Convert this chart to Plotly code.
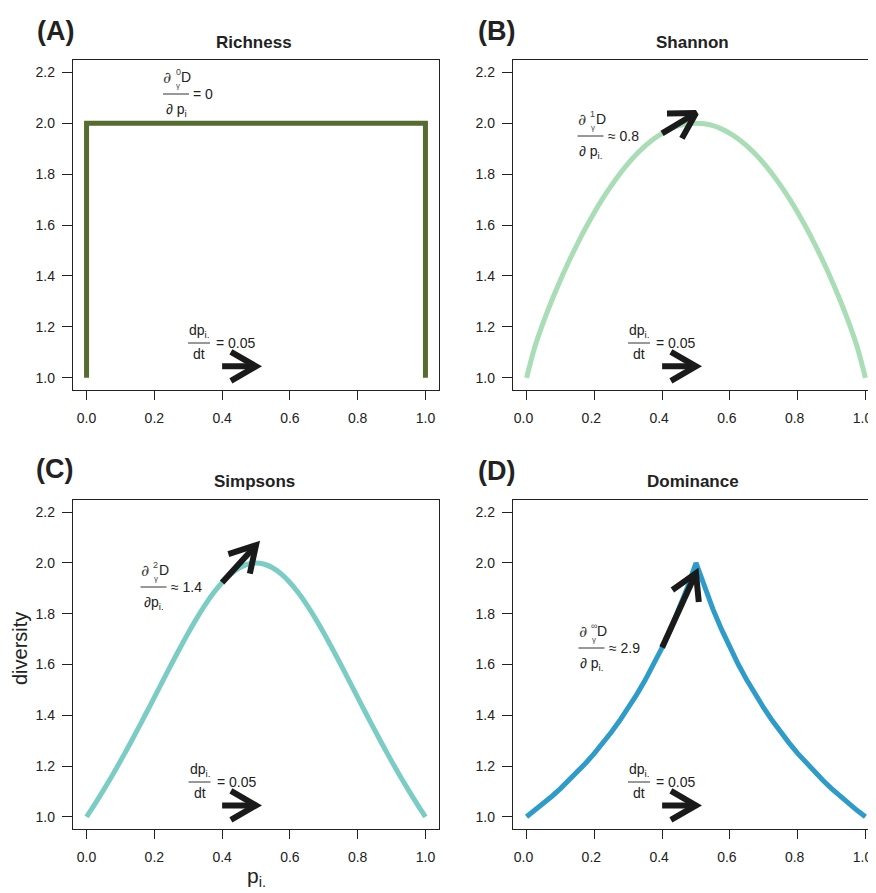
import math
import plotly.graph_objects as go

# ---------------- data ----------------
p_grid = [0.0, 0.025, 0.05, 0.075, 0.1, 0.125, 0.15, 0.175, 0.2, 0.225, 0.25,
          0.275, 0.3, 0.325, 0.35, 0.375, 0.4, 0.425, 0.45, 0.475, 0.5,
          0.525, 0.55, 0.575, 0.6, 0.625, 0.65, 0.675, 0.7, 0.725, 0.75,
          0.775, 0.8, 0.825, 0.85, 0.875, 0.9, 0.925, 0.95, 0.975, 1.0]

richness_x = [0.0, 0.0, 1.0, 1.0]
richness_y = [1.0, 2.0, 2.0, 1.0]

shannon_y = [1.0, 1.124, 1.2196, 1.3052, 1.3841, 1.4576, 1.5261, 1.59, 1.6494, 1.7043, 1.7548,
             1.8007, 1.842, 1.8787, 1.9107, 1.9378, 1.9601, 1.9775, 1.99, 1.9975, 2.0,
             1.9975, 1.99, 1.9775, 1.9601, 1.9378, 1.9107, 1.8787, 1.842, 1.8007, 1.7548,
             1.7043, 1.6494, 1.59, 1.5261, 1.4576, 1.3841, 1.3052, 1.2196, 1.124, 1.0]

simpson_y = [1.0, 1.0512, 1.105, 1.1611, 1.2195, 1.28, 1.3423, 1.406, 1.4706, 1.5355, 1.6,
             1.6632, 1.7241, 1.7817, 1.8349, 1.8824, 1.9231, 1.956, 1.9802, 1.995, 2.0,
             1.995, 1.9802, 1.956, 1.9231, 1.8824, 1.8349, 1.7817, 1.7241, 1.6632, 1.6,
             1.5355, 1.4706, 1.406, 1.3423, 1.28, 1.2195, 1.1611, 1.105, 1.0512, 1.0]

dominance_y = [1.0, 1.0256, 1.0526, 1.0811, 1.1111, 1.1429, 1.1765, 1.2121, 1.25, 1.2903, 1.3333,
               1.3793, 1.4286, 1.4815, 1.5385, 1.6, 1.6667, 1.7391, 1.8182, 1.9048, 2.0,
               1.9048, 1.8182, 1.7391, 1.6667, 1.6, 1.5385, 1.4815, 1.4286, 1.3793, 1.3333,
               1.2903, 1.25, 1.2121, 1.1765, 1.1429, 1.1111, 1.0811, 1.0526, 1.0256, 1.0]

# slope arrows (start at p=0.4, end at p=0.5)
slope_arrow_x = [0.4, 0.5]
shannon_arrow_y = [1.96, 2.04]
simpson_arrow_y = [1.923, 2.07]
dominance_arrow_y = [1.667, 1.96]
# dp/dt arrows
dt_arrow_x = [0.4, 0.5]
dt_arrow_y = [1.045, 1.045]

panel_titles = ["Richness", "Shannon", "Simpsons", "Dominance"]
panel_letters = ["(A)", "(B)", "(C)", "(D)"]
slope_sups = ["0", "1", "2", "\u221e"]
slope_rhs = ["= 0", "\u2248 0.8", "\u2248 1.4", "\u2248 2.9"]
slope_dens = ["\u2202 p<sub>i</sub>", "\u2202 p<sub>i.</sub>", "\u2202p<sub>i.</sub>", "\u2202 p<sub>i.</sub>"]
x_ticks = [0.0, 0.2, 0.4, 0.6, 0.8, 1.0]
y_ticks = [1.0, 1.2, 1.4, 1.6, 1.8, 2.0, 2.2]

colors = ["#556B2F", "#A8DDB5", "#7BCCC4", "#2F9BC9"]

# ---------------- layout geometry ----------------
OFF = 8                      # page body margin in the browser
W, H = 876 - OFF, 893 - OFF  # figure size so the figure ends at the window edge
FONT = "Liberation Sans, Arial, Helvetica, sans-serif"
INK = "#222222"

# screen-pixel boxes of the plot regions: (left, right, top, bottom)
boxes = [(73, 439, 60, 390), (513, 876, 60, 390), (73, 439, 500, 829), (513, 876, 500, 829)]
KX = 366 / 1.08  # px per data unit along x
YR = [0.952, 2.248]


def P(x, y):
    return (x - OFF) / W, 1 - (y - OFF) / H


fig = go.Figure()
annotations = []
shapes = []

for i, (l, r, t, b) in enumerate(boxes):
    n = "" if i == 0 else str(i + 1)
    xr = [-0.04, -0.04 + (r - l) / KX]
    x0p, y1p = P(l, t)
    x1p, y0p = P(r, b)
    fig.layout["xaxis" + n] = dict(
        domain=[x0p, min(x1p, 1.0)], range=xr, anchor="y" + n,
        showline=True, mirror=True, linecolor=INK, linewidth=1.3,
        ticks="outside", ticklen=9, tickwidth=1.3, tickcolor=INK,
        tickvals=x_ticks, tickformat=".1f", showgrid=False, zeroline=False,
        tickfont=dict(family=FONT, size=14, color=INK), ticklabelstandoff=6,
        ticklabelshift=(-3 if i in (1, 3) else 0), ticklabeloverflow="allow",
    )
    fig.layout["yaxis" + n] = dict(
        domain=[y0p, y1p], range=YR, anchor="x" + n,
        showline=True, mirror=(i in (0, 2)), linecolor=INK, linewidth=1.3,
        ticks="outside", ticklen=10, tickwidth=1.3, tickcolor=INK,
        tickvals=y_ticks, tickformat=".1f", showgrid=False, zeroline=False,
        tickfont=dict(family=FONT, size=14, color=INK), ticklabelstandoff=4,
    )

curves = [(richness_x, richness_y), (p_grid, shannon_y), (p_grid, simpson_y), (p_grid, dominance_y)]
shapes_kind = ["linear", "spline", "spline", "linear"]
for i, (xs, ys) in enumerate(curves):
    n = "" if i == 0 else str(i + 1)
    fig.add_trace(go.Scatter(x=xs, y=ys, mode="lines", xaxis="x" + n, yaxis="y" + n,
                             line=dict(color=colors[i], width=5, shape=shapes_kind[i], smoothing=0.8),
                             hoverinfo="skip", showlegend=False))


def add_arrow(i, xs, ys):
    l, r, t, b = boxes[i]
    kx = KX
    ky = (b - t) / (YR[1] - YR[0])
    n = "" if i == 0 else str(i + 1)
    x0, x1 = xs
    y0, y1 = ys
    ang = math.atan2((y1 - y0) * ky, (x1 - x0) * kx)
    L = 29
    hx, hy = [], []
    for s in (1, -1):
        a = ang + math.pi - s * math.radians(30)
        hx.append(x1 + L * math.cos(a) / kx)
        hy.append(y1 + L * math.sin(a) / ky)
    ax = [x0, x1, None, hx[0], x1, hx[1]]
    ay = [y0, y1, None, hy[0], y1, hy[1]]
    fig.add_trace(go.Scatter(x=ax, y=ay, mode="lines", xaxis="x" + n, yaxis="y" + n,
                             line=dict(color="#1a1a1a", width=6), hoverinfo="skip",
                             showlegend=False))


for i in range(4):
    add_arrow(i, dt_arrow_x, dt_arrow_y)
add_arrow(1, slope_arrow_x, shannon_arrow_y)
add_arrow(2, slope_arrow_x, simpson_arrow_y)
add_arrow(3, slope_arrow_x, dominance_arrow_y)


def txt(x, y, s, size=14, color=INK, bold=False, xanchor="center", family=FONT, angle=0):
    px, py = P(x, y)
    annotations.append(dict(x=px, y=py, xref="paper", yref="paper", text=("<b>%s</b>" % s) if bold else s,
                            showarrow=False, xanchor=xanchor, yanchor="middle", textangle=angle,
                            font=dict(family=family, size=size, color=color)))


def hline(x0, x1, y, color="#333333"):
    a, b0 = P(x0, y)
    c, _ = P(x1, y)
    shapes.append(dict(type="line", xref="paper", yref="paper", x0=a, x1=c, y0=b0, y1=b0,
                       line=dict(color=color, width=1)))


# titles and panel letters
title_pos = [(254, 42), (692, 42), (254, 481), (693, 481)]
letter_pos = [(55, 31), (496, 31), (54, 469), (496, 471)]
for i in range(4):
    txt(*title_pos[i], panel_titles[i], size=17, bold=True)
    txt(*letter_pos[i], panel_letters[i], size=27, bold=True)

# slope fractions
slope_pos = [(176, 94), (590.5, 136), (153.5, 587), (591.5, 648)]
GREY = "#444444"
for i, (cx, cy) in enumerate(slope_pos):
    txt(cx - 9, cy - 17, "\u2202", size=16, color=GREY, family="DejaVu Serif")
    txt(cx + 2, cy - 22, slope_sups[i], size=9, color=GREY)
    txt(cx + 2, cy - 9, "\u03b3", size=8, color=GREY)
    txt(cx + 10, cy - 17, "D", size=14, color=INK)
    hline(cx - 13, cx + 13, cy)
    txt(cx + 15, cy, slope_rhs[i], size=14, color=INK, xanchor="left")
    txt(cx, cy + 16, slope_dens[i], size=14, color=INK)

# dp/dt fractions
dt_pos = [(199, 343), (639, 343), (199.5, 782), (639, 782)]
for (cx, cy) in dt_pos:
    txt(cx, cy - 12, "dp<sub>i.</sub>", size=14)
    hline(cx - 11, cx + 11, cy)
    txt(cx, cy + 11, "dt", size=14)
    txt(cx + 15, cy, "= 0.05", size=14, xanchor="left")

# axis titles
txt(20, 649, "diversity", size=20, angle=-90)
txt(256, 877, "p<sub>i.</sub>", size=21)

fig.update_layout(width=W, height=H, margin=dict(l=0, r=0, t=0, b=0),
                  paper_bgcolor="white", plot_bgcolor="white",
                  annotations=annotations, shapes=shapes, showlegend=False,
                  font=dict(family=FONT, color=INK))

fig.write_html("out.html")
